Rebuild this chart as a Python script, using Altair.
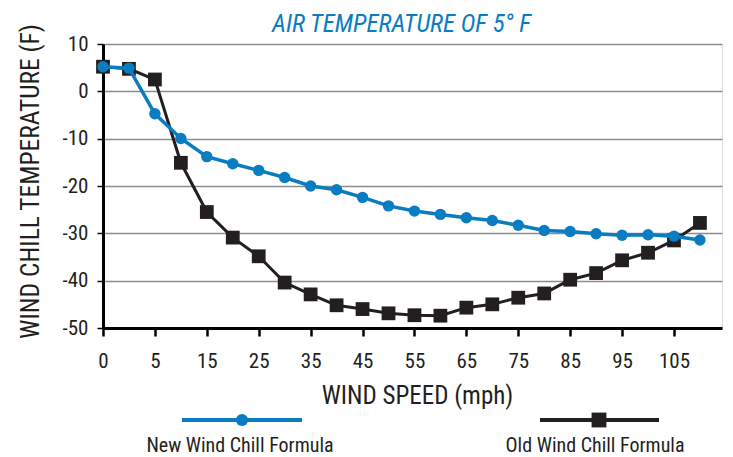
import altair as alt
import pandas as pd

# ---- data ----
speed_labels = ["0", "3", "5", "10", "15", "20", "25", "30", "35", "40", "45", "50",
                "55", "60", "65", "70", "75", "80", "85", "90", "95", "100", "105", "110"]
positions = list(range(len(speed_labels)))
new_formula = [5.2, 4.9, -4.75, -9.95, -13.8, -15.3, -16.7, -18.2, -20.0, -20.8, -22.4, -24.2,
               -25.3, -26.0, -26.7, -27.3, -28.3, -29.4, -29.6, -30.1, -30.4, -30.3, -30.6, -31.4]
old_formula = [5.2, 4.75, 2.5, -15.1, -25.5, -30.9, -34.85, -40.4, -42.9, -45.2, -46.0, -46.9,
               -47.3, -47.4, -45.7, -45.0, -43.6, -42.7, -39.8, -38.4, -35.7, -34.1, -31.5, -27.8]
y_ticks = [-50, -40, -30, -20, -10, 0, 10]
x_tick_positions = list(range(0, 23, 2))
series_names = ["New Wind Chill Formula", "Old Wind Chill Formula"]
chart_title = ["AIR TEMPERATURE OF 5° F"]

BLUE = "#0a7cc2"
BLACK = "#231f20"
FONT = "Liberation Sans Narrow, Roboto Condensed, Arial Narrow, Liberation Sans, sans-serif"

df_new = pd.DataFrame({"pos": positions, "speed": speed_labels, "temp": new_formula})
df_old = pd.DataFrame({"pos": positions, "speed": speed_labels, "temp": old_formula})
df_leg = pd.DataFrame({"label": series_names})
df_title = pd.DataFrame({"title": chart_title})

label_array = "[" + ",".join("'" + s + "'" for s in speed_labels) + "]"

x_enc = alt.X(
    "pos:Q",
    scale=alt.Scale(domain=[0, 23.85], nice=False, zero=False),
    axis=alt.Axis(
        values=x_tick_positions,
        labelExpr=label_array + "[datum.value]",
        labelFlush=False,
        grid=False,
        domainColor="black", domainWidth=3,
        tickColor="black", tickWidth=2.5, tickSize=8,
        labelPadding=14, labelFontSize=21, labelFont=FONT, labelColor="#231f20",
        title="WIND SPEED (mph)", titleFont=FONT, titleFontSize=25, titleFontWeight="normal",
        titleColor="#231f20", titleX=314, titleY=67, titleAlign="center",
        titleBaseline="middle", titleAnchor="middle",
    ),
)
y_enc = alt.Y(
    "temp:Q",
    scale=alt.Scale(domain=[-50, 10], nice=False, zero=False),
    axis=alt.Axis(
        values=y_ticks,
        labelExpr="'' + datum.value",
        labelFlush=False,
        grid=True, gridColor="#8c8c8c", gridWidth=1.5,
        domainColor="black", domainWidth=3,
        tickColor="black", tickWidth=1.5, tickSize=6,
        labelPadding=9, labelFontSize=21, labelFont=FONT, labelColor="#231f20",
        title="WIND CHILL TEMPERATURE (F)", titleFont=FONT, titleFontSize=25.5,
        titleFontWeight="normal", titleColor="#231f20",
        titleX=-73, titleY=137, titleAlign="center", titleBaseline="middle", titleAngle=270,
    ),
)

old_line = alt.Chart(df_old).mark_line(color=BLACK, strokeWidth=3).encode(x=x_enc, y=y_enc)
old_pts = alt.Chart(df_old).mark_point(shape="square", filled=True, size=190, color=BLACK,
                                       opacity=1).encode(x=x_enc, y=y_enc)
new_line = alt.Chart(df_new).mark_line(color=BLUE, strokeWidth=3.5).encode(x=x_enc, y=y_enc)
new_pts = alt.Chart(df_new).mark_point(shape="circle", filled=True, size=130, color=BLUE,
                                       opacity=1).encode(x=x_enc, y=y_enc)

# ---- title as text above the plot ----
title_layer = alt.Chart(df_title).mark_text(
    font=FONT, fontSize=25, fontStyle="italic", color=BLUE, align="center",
    baseline="alphabetic").encode(x=alt.value(298.5), y=alt.value(-12), text="title:N")

# ---- manual legend below the chart ----
leg_new = alt.Chart(df_leg).transform_filter(alt.datum.label == series_names[0])
leg_old = alt.Chart(df_leg).transform_filter(alt.datum.label == series_names[1])

legend_layers = [
    leg_new.mark_rule(color=BLUE, strokeWidth=4).encode(
        x=alt.value(79), x2=alt.value(199), y=alt.value(376)),
    leg_new.mark_point(shape="circle", filled=True, size=150, color=BLUE, opacity=1).encode(
        x=alt.value(139), y=alt.value(376)),
    leg_new.mark_text(font=FONT, fontSize=20, color=BLACK, align="center",
                      baseline="middle").encode(x=alt.value(137), y=alt.value(402),
                                                text="label:N"),
    leg_old.mark_rule(color=BLACK, strokeWidth=4).encode(
        x=alt.value(437), x2=alt.value(556), y=alt.value(376)),
    leg_old.mark_point(shape="square", filled=True, size=220, color=BLACK, opacity=1).encode(
        x=alt.value(496), y=alt.value(376)),
    leg_old.mark_text(font=FONT, fontSize=20, color=BLACK, align="center",
                      baseline="middle").encode(x=alt.value(492), y=alt.value(402),
                                                text="label:N"),
]

chart = alt.layer(old_line, old_pts, new_line, new_pts, title_layer, *legend_layers).properties(
    width=619,
    height=284,
    autosize=alt.AutoSizeParams(type="none"),
    padding={"left": 95, "top": 36, "right": 3, "bottom": 135},
).configure_view(stroke=None).configure(background="white")

chart.save("out.html", embed_options={"renderer": "svg", "actions": False})
